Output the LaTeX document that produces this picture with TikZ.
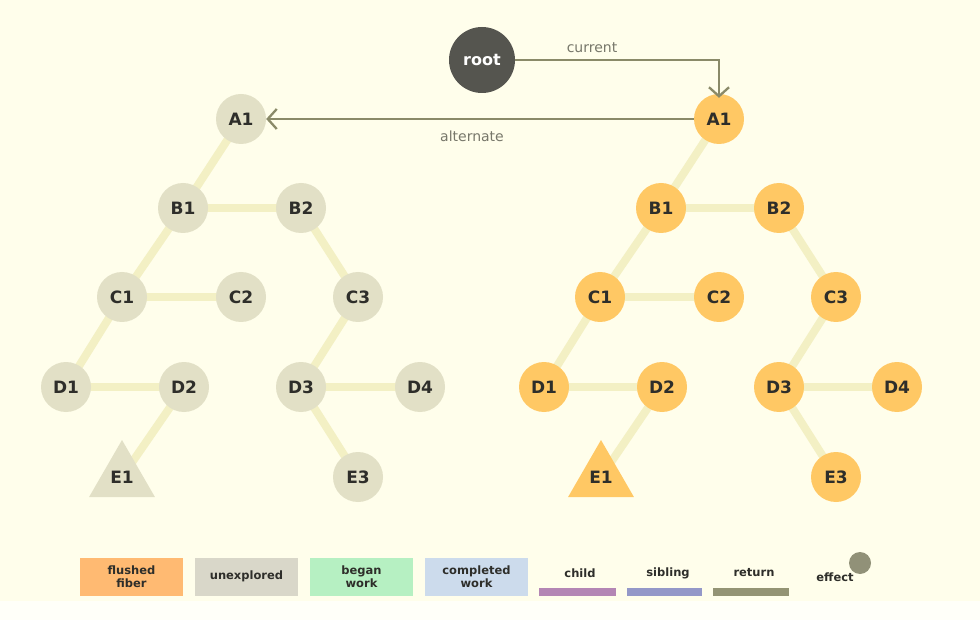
\documentclass[tikz,border=0pt]{standalone}
\usepackage{fontspec}
\setmainfont{DejaVu Sans}
\usetikzlibrary{arrows.meta,shapes.geometric}
\pgfdeclarelayer{back}
\pgfsetlayers{back,main}
\definecolor{bg}{HTML}{FFFEEB}
\definecolor{edgec}{HTML}{F3F0C4}
\definecolor{unexp}{HTML}{E2E0C6}
\definecolor{flush}{HTML}{FFC864}
\definecolor{txt}{HTML}{2E2E2A}
\definecolor{retc}{HTML}{8A8A68}
\definecolor{lblc}{HTML}{77776A}
\definecolor{rootc}{HTML}{55554F}
\definecolor{lgflush}{HTML}{FFBA72}
\definecolor{lgunexp}{HTML}{D9D7C9}
\definecolor{lgbegan}{HTML}{B6F0C2}
\definecolor{lgdone}{HTML}{CCDBEC}
\definecolor{lgchild}{HTML}{B486B4}
\definecolor{lgsib}{HTML}{9498C8}
\definecolor{lgret}{HTML}{949474}
\definecolor{effc}{HTML}{919178}
\tikzset{
  fib/.style={circle,minimum size=50pt,inner sep=0pt,font=\fontsize{17}{17}\selectfont\bfseries,text=txt},
  ufib/.style={fib,fill=unexp},
  ffib/.style={fib,fill=flush},
  tri/.style={regular polygon,regular polygon sides=3,minimum size=76pt,inner sep=0pt,font=\fontsize{17}{17}\selectfont\bfseries,text=txt},
  link/.style={draw=edgec,line width=8pt},
  ptr/.style={draw=retc,line width=2.3pt,-{Straight Barb[length=9pt,width=20pt,line width=2.3pt]}},
  lbl/.style={font=\fontsize{14}{14}\selectfont,text=lblc},
  lgbox/.style={minimum width=103pt,minimum height=38pt,inner sep=0pt,font=\fontsize{11.5}{13}\selectfont\bfseries,text=txt,align=center},
  lgtxt/.style={font=\fontsize{11.5}{13}\selectfont\bfseries,text=txt},
}
\begin{document}
\begin{tikzpicture}[x=1pt,y=-1pt]
\begin{pgfonlayer}{back}
\fill[bg] (0,0) rectangle (980,620);
\fill[white!70!bg] (0,601) rectangle (980,620);
\end{pgfonlayer}
\useasboundingbox (0,0) rectangle (980,620);
% left tree
\node[ufib] (lA1) at (241,119) {A1};
\node[ufib] (lB1) at (183,208) {B1};
\node[ufib] (lB2) at (301,208) {B2};
\node[ufib] (lC1) at (122,297) {C1};
\node[ufib] (lC2) at (241,297) {C2};
\node[ufib] (lC3) at (358,297) {C3};
\node[ufib] (lD1) at (66,387) {D1};
\node[ufib] (lD2) at (184,387) {D2};
\node[ufib] (lD3) at (301,387) {D3};
\node[ufib] (lD4) at (420,387) {D4};
\node[ufib] (lE3) at (358,477) {E3};
\node[tri,fill=unexp] (lE1) at (122,478) {};
\node[font=\fontsize{17}{17}\selectfont\bfseries,text=txt] (lE1t) at (122,477) {E1};
% right tree
\node[ffib] (rA1) at (719,119) {A1};
\node[ffib] (rB1) at (661,208) {B1};
\node[ffib] (rB2) at (779,208) {B2};
\node[ffib] (rC1) at (600,297) {C1};
\node[ffib] (rC2) at (719,297) {C2};
\node[ffib] (rC3) at (836,297) {C3};
\node[ffib] (rD1) at (544,387) {D1};
\node[ffib] (rD2) at (662,387) {D2};
\node[ffib] (rD3) at (779,387) {D3};
\node[ffib] (rD4) at (897,387) {D4};
\node[ffib] (rE3) at (836,477) {E3};
\node[tri,fill=flush] (rE1) at (601,478) {};
\node[font=\fontsize{17}{17}\selectfont\bfseries,text=txt] (rE1t) at (601,477) {E1};
% links (behind the nodes)
\begin{pgfonlayer}{back}
\foreach \p in {l,r}{
 \path[link] (\p A1.center) -- (\p B1.center);
 \path[link] (\p B1.center) -- (\p B2.center);
 \path[link] (\p B1.center) -- (\p C1.center);
 \path[link] (\p B2.center) -- (\p C3.center);
 \path[link] (\p C1.center) -- (\p C2.center);
 \path[link] (\p C1.center) -- (\p D1.center);
 \path[link] (\p D1.center) -- (\p D2.center);
 \path[link] (\p C3.center) -- (\p D3.center);
 \path[link] (\p D3.center) -- (\p D4.center);
 \path[link] (\p D3.center) -- (\p E3.center);
 \path[link] (\p D2.center) -- (\p E1t.center);
}
\end{pgfonlayer}
% root
\node[circle,fill=rootc,minimum size=66pt,inner sep=0pt,text=white,font=\fontsize{16}{16}\selectfont\bfseries] (root) at (482,60) {root};
\coordinate (corner) at (719,60);
\draw[ptr] (root.east) -- (corner) -- ([yshift=-4pt]rA1.north);
\node[lbl] (curlbl) at (592,48) {current};
\draw[ptr] (rA1.west) -- (lA1.east);
\node[lbl] (altlbl) at (472,136) {alternate};
% legend
\node[lgbox,fill=lgflush] (k1) at (131.5,576.5) {flushed\\fiber};
\node[lgbox,fill=lgunexp] (k2) at (246.5,576.5) {unexplored};
\node[lgbox,fill=lgbegan] (k3) at (361.5,576.5) {began\\work};
\node[lgbox,fill=lgdone] (k4) at (476.5,576.5) {completed\\work};
\node[lgtxt] (k5) at (580,573) {child};
\fill[lgchild] (539,588) rectangle (616,596);
\node[lgtxt] (k6) at (668,573) {sibling};
\fill[lgsib] (627,588) rectangle (702,596);
\node[lgtxt] (k7) at (754,573) {return};
\fill[lgret] (713,588) rectangle (789,596);
\node[lgtxt] (k8) at (835,577) {effect};
\fill[effc] (860,563) circle (11);
\end{tikzpicture}
\end{document}
